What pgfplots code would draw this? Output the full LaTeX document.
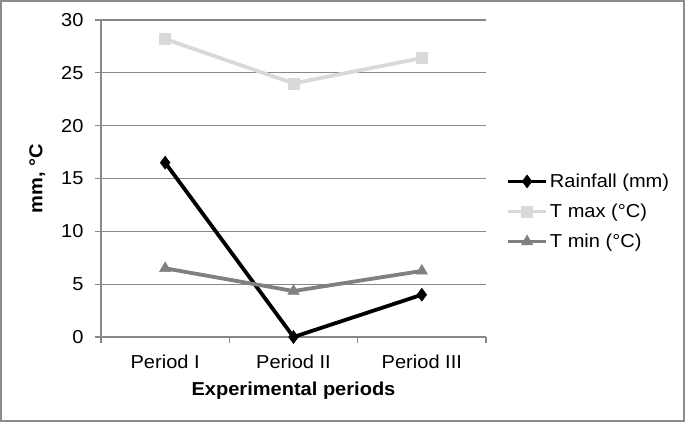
\documentclass[border=0pt]{standalone}
\usepackage{fontspec}
\setmainfont{Liberation Sans}[FakeStretch=1.07]
\usepackage{pgfplots}
\pgfplotsset{compat=1.18}
\definecolor{gridc}{HTML}{888888}
\definecolor{framec}{HTML}{8C8C8C}
\definecolor{tmax}{HTML}{D9D9D9}
\definecolor{tmin}{HTML}{808080}
\begin{document}
\begin{tikzpicture}
\useasboundingbox (-101bp,-85bp) rectangle (584bp,337bp);
\begin{axis}[
  scale only axis, width=385bp, height=317bp,
  xmin=-0.5, xmax=2.5, ymin=0, ymax=30,
  axis lines*=left,
  axis line style={draw=gridc, line width=1.2bp, -},
  xtick={0,1,2}, xticklabels={Period I,Period II,Period III},
  minor xtick={-0.5,0.5,1.5,2.5},
  major x tick style={draw=none},
  ytick={0,5,...,30},
  tick align=outside,
  tick style={draw=gridc, line width=1.2bp},
  major tick length=6bp, minor tick length=6bp,
  ymajorgrids,
  major grid style={draw=gridc, line width=1.2bp},
  font=\fontsize{18.8}{21}\selectfont,
  /pgf/number format/assume math mode=true,
  xticklabel style={yshift=-8bp},
  yticklabel style={xshift=-8bp},
  xlabel={\bfseries Experimental periods},
  ylabel={\bfseries mm, °C},
  xlabel style={yshift=-7bp},
  ylabel style={yshift=9bp},
  legend style={at={(1,0.5)}, anchor=west, draw=none, xshift=20bp, yshift=-33bp,
    font=\fontsize{18.8}{21}\selectfont, row sep=11bp, inner sep=0pt},
  legend cell align=left,
  legend image code/.code={\draw[mark repeat=2,mark phase=2,#1] plot coordinates {(0bp,0bp) (19bp,0bp) (38bp,0bp)};},
]
\addplot[black, line width=3.8bp, mark=diamond*, mark size=6.5bp, mark options={solid, line width=0.5bp}] coordinates {(0,16.5) (1,0) (2,4.0)};
\addlegendentry{Rainfall (mm)}
\addplot[tmax, line width=3.8bp, mark=square*, mark size=5.5bp, mark options={solid, line width=0.5bp}] coordinates {(0,28.2) (1,24.0) (2,26.4)};
\addlegendentry{T max (°C)}
\addplot[tmin, line width=3.8bp, mark=triangle*, mark size=6.5bp, mark options={solid, line width=0.5bp}] coordinates {(0,6.5) (1,4.35) (2,6.25)};
\addlegendentry{T min (°C)}
\end{axis}
\draw[framec, line width=2bp] (-100bp,-84bp) rectangle (583bp,336bp);
\end{tikzpicture}
\end{document}
